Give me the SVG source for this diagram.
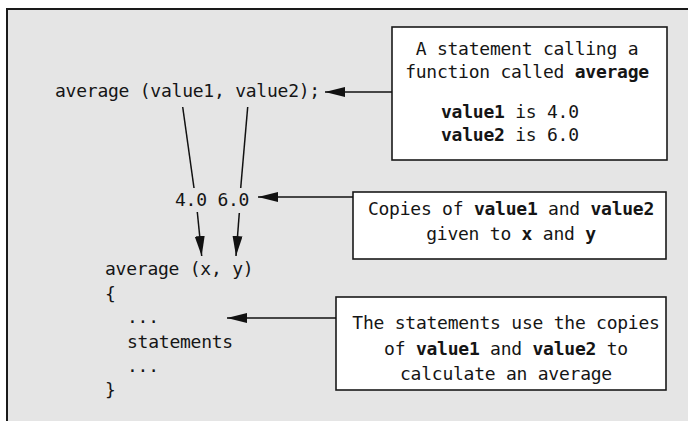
<svg xmlns="http://www.w3.org/2000/svg" width="688" height="421" viewBox="0 0 688 421">
<style>
text{font-family:"DejaVu Sans Mono","Liberation Mono",monospace;font-size:18px;letter-spacing:-0.24px;fill:#151515}
.b{font-weight:bold}
.box{fill:#fff;stroke:#1a1a1a;stroke-width:1.6}
.c{stroke:#111;stroke-width:1.5;fill:none}
.m{text-anchor:middle}
</style>
<defs>
<marker id="ah" markerUnits="userSpaceOnUse" markerWidth="22" markerHeight="12" refX="20" refY="5" orient="auto">
<path d="M0,0 L20,5 L0,10 z" fill="#111"/>
</marker>
</defs>
<rect x="0" y="0" width="688" height="421" fill="#fff"/>
<rect id="frame" x="7" y="9" width="700" height="430" fill="#e5e5e5" stroke="#1a1a1a" stroke-width="2"/>
<g id="code">
<text x="55" y="97">average (value1, value2);</text>
<text x="175" y="206">4.0 6.0</text>
<text x="105" y="275">average (x, y)</text>
<text x="105" y="300">{</text>
<text x="127" y="323">...</text>
<text x="127" y="348">statements</text>
<text x="127" y="372">...</text>
<text x="105" y="396">}</text>
</g>
<g id="box1">
<rect class="box" x="392" y="27" width="275" height="133"/>
<text class="m" x="527" y="55">A statement calling a</text>
<text class="m" x="527" y="78">function called <tspan class="b">average</tspan></text>
<text x="441" y="118"><tspan class="b">value1</tspan> is 4.0</text>
<text x="441" y="141"><tspan class="b">value2</tspan> is 6.0</text>
</g>
<g id="box2">
<rect class="box" x="353" y="192" width="313" height="67"/>
<text class="m" x="511" y="215">Copies of <tspan class="b">value1</tspan> and <tspan class="b">value2</tspan></text>
<text class="m" x="511" y="240">given to <tspan class="b">x</tspan> and <tspan class="b">y</tspan></text>
</g>
<g id="box3">
<rect class="box" x="336" y="297" width="330" height="93"/>
<text class="m" x="506" y="329">The statements use the copies</text>
<text class="m" x="506" y="355">of <tspan class="b">value1</tspan> and <tspan class="b">value2</tspan> to</text>
<text class="m" x="506" y="380">calculate an average</text>
</g>
<g id="connectors">
<line class="c" x1="392" y1="92" x2="325" y2="92" marker-end="url(#ah)"/>
<line class="c" x1="353" y1="197" x2="258" y2="197" marker-end="url(#ah)"/>
<line class="c" x1="336" y1="318" x2="227" y2="318" marker-end="url(#ah)"/>
<line class="c" x1="182.7" y1="107" x2="194" y2="188"/>
<line class="c" x1="247.7" y1="107" x2="240.7" y2="188"/>
<line class="c" x1="197.3" y1="212" x2="201.7" y2="256" marker-end="url(#ah)"/>
<line class="c" x1="239.3" y1="213" x2="236" y2="256" marker-end="url(#ah)"/>
</g>
</svg>
